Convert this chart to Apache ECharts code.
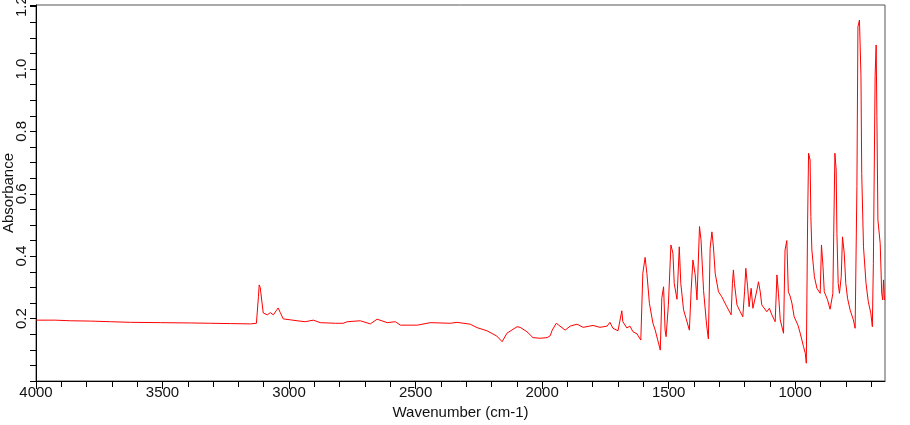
<!DOCTYPE html>
<html>
<head>
<meta charset="utf-8">
<script src="https://cdn.jsdelivr.net/npm/echarts@6/dist/echarts.min.js"></script>
<style>
html,body{margin:0;padding:0;background:#fff;}
#chart{width:910px;height:425px;}
</style>
</head>
<body>
<div id="chart"></div>
<script>
// Wavenumber (cm-1) of each sampled point
var wavenumbers = [3999,3924,3864,3785,3706,3627,3509,3390,3311,3232,3152,3129,3121,3118,3114,3102,3086,3074,3062,3051,3043,3035,3023,2995,2968,2936,2904,2877,2817,2786,2770,2718,2679,2652,2612,2580,2560,2493,2442,2363,2336,2284,2257,2218,2179,2158,2139,2099,2087,2060,2036,2008,1980,1968,1960,1944,1936,1909,1889,1862,1838,1799,1771,1743,1732,1720,1700,1685,1681,1665,1653,1641,1625,1610,1602,1593,1586,1576,1562,1553,1544,1533,1527,1520,1514,1510,1501,1491,1483,1478,1467,1458,1452,1441,1431,1418,1411,1404,1395,1388,1378,1372,1362,1350,1343,1336,1329,1323,1316,1303,1290,1270,1253,1248,1244,1240,1230,1217,1207,1200,1195,1188,1182,1174,1167,1161,1151,1145,1138,1132,1112,1102,1092,1079,1072,1066,1059,1046,1040,1033,1027,1020,1013,1004,989,980,967,960,956,951,947,941,938,934,924,914,901,896,890,885,872,862,851,843,838,835,830,825,818,813,806,800,793,783,770,763,756,752,746,740,737,730,720,711,701,695,691,684,680,677,673,664,658,654,651,647];
// Absorbance at each point
var absorbance = [0.195,0.195,0.193,0.192,0.190,0.188,0.187,0.186,0.185,0.184,0.183,0.185,0.270,0.308,0.300,0.218,0.212,0.219,0.212,0.225,0.234,0.220,0.199,0.196,0.193,0.190,0.195,0.187,0.185,0.185,0.190,0.193,0.183,0.198,0.187,0.190,0.179,0.179,0.187,0.185,0.188,0.182,0.171,0.161,0.144,0.126,0.153,0.174,0.172,0.158,0.139,0.137,0.139,0.145,0.163,0.185,0.180,0.163,0.176,0.182,0.172,0.178,0.172,0.176,0.188,0.169,0.161,0.225,0.190,0.170,0.176,0.158,0.151,0.131,0.345,0.396,0.345,0.249,0.185,0.163,0.134,0.099,0.265,0.302,0.163,0.142,0.244,0.436,0.409,0.313,0.262,0.430,0.313,0.228,0.200,0.163,0.292,0.388,0.340,0.260,0.495,0.452,0.290,0.180,0.135,0.425,0.478,0.430,0.345,0.286,0.270,0.238,0.212,0.313,0.356,0.313,0.244,0.222,0.206,0.286,0.361,0.302,0.238,0.297,0.233,0.228,0.292,0.318,0.286,0.244,0.222,0.233,0.212,0.190,0.340,0.281,0.196,0.153,0.420,0.450,0.286,0.272,0.250,0.206,0.179,0.153,0.110,0.089,0.057,0.500,0.730,0.708,0.527,0.420,0.334,0.297,0.281,0.436,0.366,0.286,0.260,0.230,0.281,0.730,0.676,0.473,0.313,0.281,0.334,0.462,0.409,0.313,0.265,0.228,0.196,0.169,0.623,1.135,1.157,0.980,0.665,0.430,0.313,0.254,0.217,0.174,0.377,0.980,1.077,0.847,0.516,0.441,0.281,0.260,0.324,0.260];
// Axis tick labels
var xLabelValues = [1000,1500,2000,2500,3000,3500,4000];
var xMinorTickValues = [700,800,900,1100,1200,1300,1400,1600,1700,1800,1900,2100,2200,2300,2400,2600,2700,2800,2900,3100,3200,3300,3400,3600,3700,3800,3900];
var yLabelValues = [0.2,0.4,0.6,0.8,1.0,1.2];
var xName = 'Wavenumber (cm-1)';
var yName = 'Absorbance';

var seriesData = wavenumbers.map(function(w,i){return [w, absorbance[i]];});
var FONT = "'Liberation Sans', Arial, sans-serif";

var chart = echarts.init(document.getElementById('chart'), null, {renderer:'canvas'});
chart.setOption({
  animation:false,
  backgroundColor:'#fff',
  grid:{left:36,right:25,top:5,bottom:44,containLabel:false,outerBoundsMode:'none',show:true,borderColor:'#555',borderWidth:1,backgroundColor:'transparent'},
  xAxis:[{
    type:'value',inverse:true,min:645,max:4000,
    name:xName,nameLocation:'middle',nameGap:24,nameMoveOverlap:false,
    nameTextStyle:{fontFamily:FONT,fontSize:15,color:'#111'},
    axisLine:{show:true,onZero:false,lineStyle:{color:'#000',width:1}},
    axisTick:{show:true,inside:false,length:8,customValues:xLabelValues,lineStyle:{color:'#000'}},
    axisLabel:{show:true,customValues:xLabelValues,margin:4,fontFamily:FONT,fontSize:15,color:'#111',hideOverlap:false,
      formatter:function(v){return String(v);}},
    splitLine:{show:false}
  },{
    type:'value',inverse:true,min:645,max:4000,position:'bottom',
    axisLine:{show:false},
    axisTick:{show:true,inside:false,length:6,customValues:xMinorTickValues,lineStyle:{color:'#000'}},
    axisLabel:{show:false},
    splitLine:{show:false}
  }],
  yAxis:{
    type:'value',min:0,max:1.205,interval:0.05,
    name:yName,nameLocation:'middle',nameGap:20,nameRotate:90,nameMoveOverlap:false,
    nameTextStyle:{fontFamily:FONT,fontSize:15,color:'#111'},
    axisLine:{show:true,onZero:false,lineStyle:{color:'#000',width:1}},
    axisTick:{show:true,inside:false,length:6,lineStyle:{color:'#000'}},
    axisLabel:{show:true,customValues:yLabelValues,rotate:90,margin:7,fontFamily:FONT,fontSize:15,color:'#111',hideOverlap:false,
      formatter:function(v){return v.toFixed(1);}},
    splitLine:{show:false}
  },
  series:[{
    type:'line',xAxisIndex:0,data:seriesData,showSymbol:false,symbol:'none',
    lineStyle:{color:'#ff0000',width:1},
    clip:true
  }]
});
</script>
</body>
</html>
